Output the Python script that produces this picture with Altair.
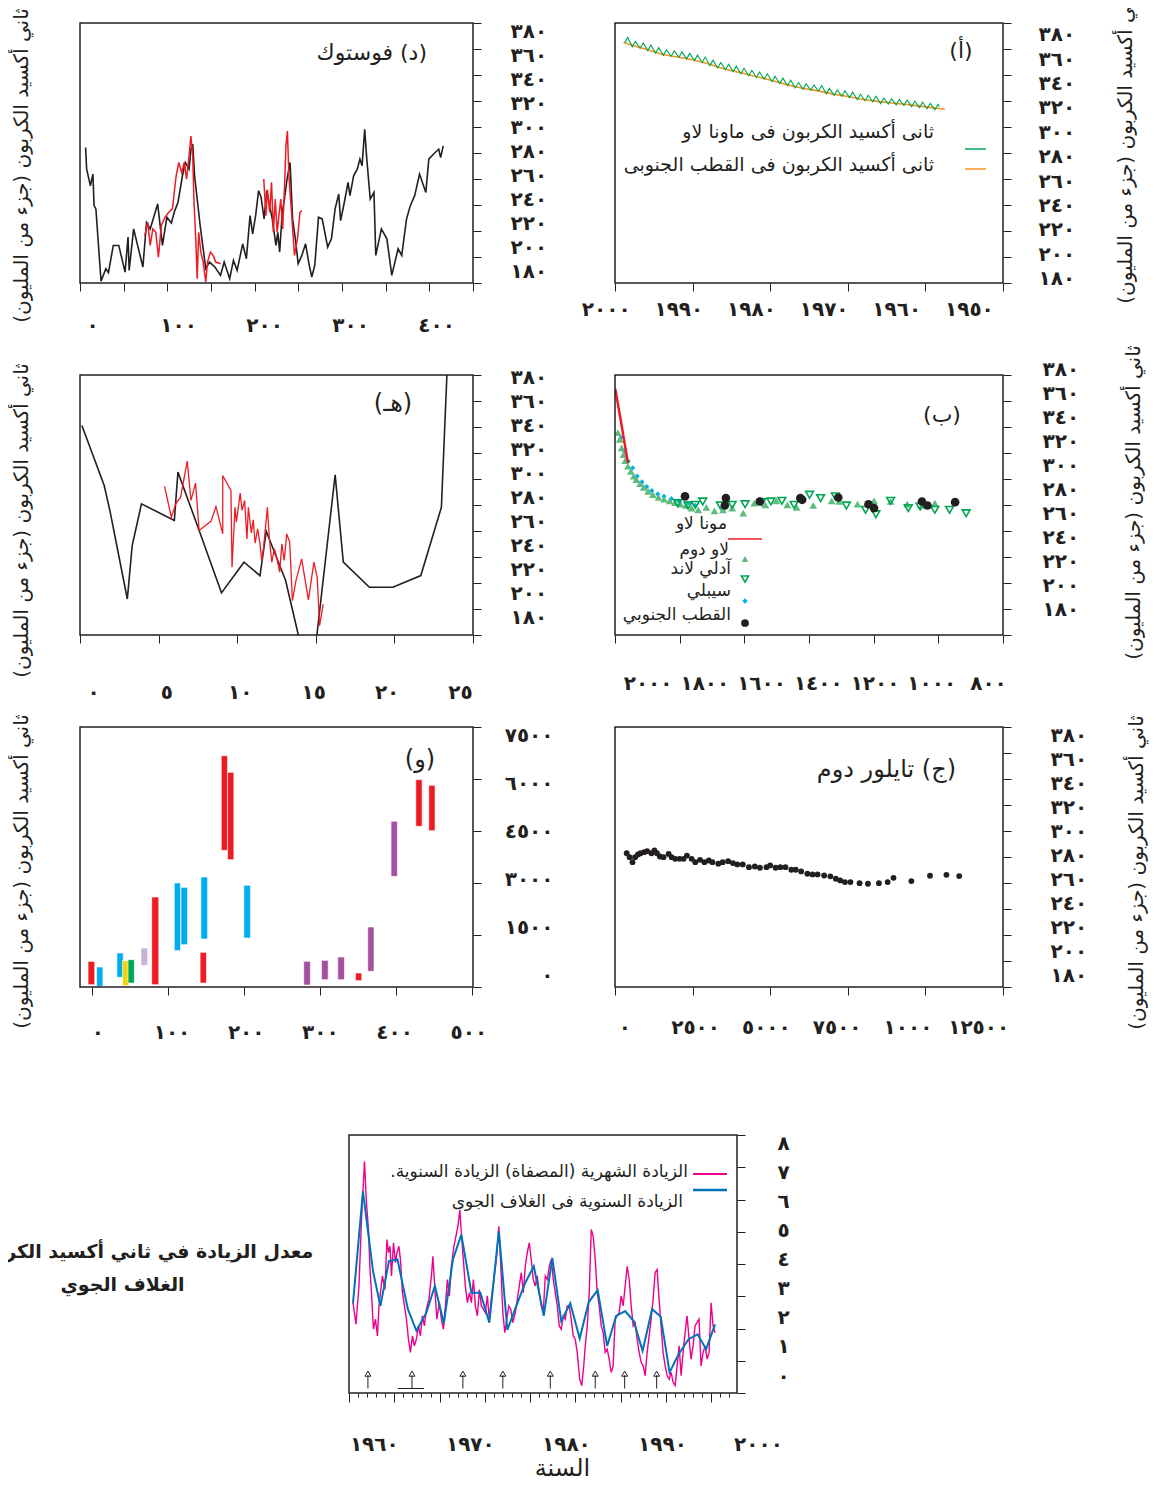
import altair as alt
import pandas as pd

FONT = "DejaVu Sans"
INK = "#231f20"
RED = "#ed1c24"
GREEN = "#00a651"
ORANGE = "#f7941d"
LAWDOME = "#5dbb7e"
CYAN = "#00aeef"
PINK = "#ec008c"
BLUE = "#0072bc"
RLM = "\u200f"
AR_DIGITS = "٠١٢٣٤٥٦٧٨٩"
Y_TITLE = "ثاني أكسيد الكربون (جزء من المليون)"

# ======================= DATA =======================
# (أ) Mauna Loa seasonal maxima / minima, South Pole
ml_years = list(range(1958, 1999))
ml_peaks = [317.5, 318.2, 319.1, 319.8, 320.7, 321.2, 321.8, 322.2, 323.6, 324.4,
            325.2, 326.8, 327.9, 328.5, 329.7, 331.9, 332.4, 333.3, 334.2, 336.0,
            337.6, 339.0, 340.9, 342.3, 343.6, 345.2, 346.8, 348.3, 349.6, 351.4,
            353.8, 355.3, 356.6, 357.8, 358.6, 359.3, 361.0, 363.0, 364.8, 365.9, 368.9]
ml_troughs = [313.3, 314.0, 314.9, 315.6, 316.5, 317.0, 317.6, 318.0, 319.4, 320.2,
              321.0, 322.6, 323.7, 324.3, 325.5, 327.7, 328.2, 329.1, 330.0, 331.8,
              333.4, 334.8, 336.7, 338.1, 339.4, 341.0, 342.6, 344.1, 345.4, 347.2,
              349.6, 351.1, 352.4, 353.6, 354.4, 355.1, 356.8, 358.8, 360.6, 361.7, 364.7]
ml_first = (1958.2, 315.7)
spo = [(1957.5, 313.7), (1960, 315.5), (1962, 317.0), (1964, 318.3), (1966, 319.5),
       (1968, 321.2), (1970, 323.5), (1972, 325.5), (1974, 328.0), (1976, 330.0),
       (1978, 332.8), (1980, 336.2), (1982, 339.0), (1984, 342.0), (1986, 344.8),
       (1988, 348.7), (1990, 351.8), (1992, 353.9), (1994, 356.0), (1996, 359.8),
       (1998, 363.3), (1998.9, 365.0)]

# (ب) last 1000 years
mlb_red = [(1998.9, 369.2), (1990.9, 357.5), (1981.8, 344.6), (1971.5, 329.2), (1960.1, 312.4)]
law_dome = [(1990.9, 335.6), (1985.2, 330.4), (1979.5, 324.0), (1973.8, 318.8), (1968.1, 314.2),
            (1960.1, 309.8), (1951.0, 305.9), (1941.9, 302.1), (1933.9, 299.5), (1922.5, 296.4),
            (1911.1, 293.5), (1897.4, 290.5), (1882.6, 287.9), (1865.5, 285.8), (1848.4, 284.5),
            (1831.3, 283.2), (1814.3, 281.9), (1797.2, 280.6), (1780.1, 279.6), (1763.0, 277.6),
            (1742.5, 276.3), (1717.4, 278.1), (1692.3, 275.5), (1666.1, 276.3), (1637.6, 277.6),
            (1603.4, 273.7), (1569.2, 281.4), (1535.0, 280.1), (1500.9, 283.2), (1466.7, 280.1),
            (1438.2, 278.1), (1386.9, 279.6), (1329.9, 283.2), (1307.1, 282.7), (1250.1, 280.6),
            (1198.9, 283.2), (1147.6, 282.7), (1096.3, 280.6), (1050.7, 279.6), (1010.8, 281.4)]
adelie = [(1806.3, 281.4), (1774.4, 279.6), (1751.6, 280.1), (1728.8, 282.7), (1674.1, 279.6),
          (1637.6, 280.1), (1597.7, 280.6), (1546.4, 282.2), (1517.9, 282.7), (1483.8, 283.2),
          (1446.2, 280.1), (1398.3, 287.9), (1364.1, 285.3), (1318.5, 286.6), (1284.3, 279.6),
          (1225.1, 276.3), (1193.2, 272.9), (1147.6, 283.2), (1092.9, 277.6), (1056.4, 278.8),
          (1010.8, 276.3), (965.3, 276.3), (914.0, 273.7)]
siple = [(1981.8, 331.7), (1970.4, 321.4), (1959.0, 313.7), (1945.3, 308.5), (1931.6, 302.1),
         (1916.8, 297.7), (1902.0, 294.1), (1886.0, 291.0), (1867.8, 288.4), (1848.4, 286.6),
         (1825.6, 284.8), (1802.8, 283.2), (1774.4, 281.4), (1751.6, 279.6)]
south_pole = [(1783.5, 286.6), (1657.0, 285.3), (1660.4, 279.6), (1552.1, 282.7), (1426.8, 285.3),
              (1421.1, 284.0), (1309.4, 285.8), (1216.0, 280.6), (1198.9, 277.6), (1050.7, 282.7),
              (1033.6, 279.6), (948.2, 282.2)]

# (ج) Taylor Dome (years BP, ppm)
taylor = [(376, 282.9), (470, 279.9), (564, 276.0), (647, 279.9), (741, 281.9), (823, 282.9),
          (941, 283.7), (1035, 284.5), (1176, 282.9), (1270, 285.0), (1352, 282.9), (1446, 280.4),
          (1564, 279.9), (1729, 282.4), (1823, 279.9), (1940, 278.6), (2081, 278.6), (2211, 278.6),
          (2317, 281.1), (2469, 278.6), (2587, 276.0), (2740, 277.8), (2881, 276.0), (3022, 277.3),
          (3140, 276.0), (3328, 274.8), (3469, 276.0), (3645, 276.8), (3798, 275.3), (3939, 274.3),
          (4116, 274.3), (4316, 272.2), (4504, 272.7), (4668, 271.7), (4880, 272.2), (4998, 273.5),
          (5174, 271.7), (5327, 272.2), (5492, 272.2), (5680, 270.2), (5821, 270.2), (5997, 268.9),
          (6197, 267.1), (6362, 266.6), (6526, 266.6), (6738, 265.8), (6938, 265.1), (7114, 263.3),
          (7255, 262.0), (7408, 260.7), (7585, 260.7), (7879, 259.9), (8149, 259.4), (8502, 259.9),
          (8784, 260.7), (8972, 264.0), (9548, 261.5), (10148, 265.6), (10677, 266.3), (11089, 265.3)]

# (د) Vostok (kyr BP, ppm)
vostok_black = [(6.4, 284.2), (7.6, 267.6), (10.6, 258.7), (11.9, 254.8), (14.8, 263.8), (16.1, 239.5),
                (18.2, 237.0), (24.1, 181.3), (29.6, 191.0), (32.6, 188.0), (38.1, 208.9), (44.4, 208.9),
                (51.6, 188.4), (55.0, 215.3), (56.3, 189.7), (61.4, 221.6), (72.0, 192.3), (76.2, 226.5),
                (80.4, 221.6), (88.9, 240.8), (94.4, 208.9), (99.5, 230.6), (104.6, 226.2), (107.9, 234.4),
                (112.2, 242.1), (117.3, 262.5), (120.6, 272.7), (124.9, 267.6), (127.0, 282.9), (129.1, 286.8),
                (131.2, 262.5), (137.6, 224.2), (144.0, 191.0), (148.2, 196.1), (154.5, 192.3), (160.9, 185.9),
                (165.1, 196.1), (171.4, 183.3), (175.7, 197.4), (179.9, 189.7), (186.3, 210.1), (190.5, 198.7),
                (194.7, 231.8), (197.7, 217.8), (201.1, 231.8), (204.5, 251.0), (207.4, 245.9), (210.8, 229.3),
                (213.8, 251.0), (220.1, 229.3), (224.4, 208.9), (226.5, 219.0), (228.6, 203.8), (231.6, 234.4),
                (234.1, 244.6), (237.1, 260.0), (240.5, 272.7), (243.4, 229.3), (246.8, 212.7), (249.8, 194.8),
                (254.0, 201.2), (258.3, 210.1), (262.5, 193.5), (265.4, 184.6), (268.8, 193.5), (273.1, 230.6),
                (277.3, 229.3), (283.6, 207.6), (287.9, 214.0), (292.1, 237.0), (296.3, 248.5), (298.4, 228.0),
                (302.7, 242.1), (306.9, 257.4), (309.1, 247.2), (313.3, 262.5), (317.5, 267.6), (320.5, 275.3),
                (323.0, 270.2), (326.0, 298.3), (328.1, 277.8), (332.3, 244.6), (336.6, 249.7), (338.7, 201.2),
                (345.1, 221.6), (351.4, 214.0), (357.0, 185.9), (364.2, 206.3), (368.4, 201.2), (373.9, 229.3),
                (378.2, 239.5), (383.2, 247.2), (388.8, 263.8), (396.0, 249.7), (399.4, 275.3), (406.6, 280.4),
                (410.8, 282.9), (412.9, 276.5), (415.9, 285.5)]
vostok_red_1 = [(74.1, 216.5), (77.5, 226.8), (80.4, 208.9), (83.4, 221.6), (86.8, 219.0), (89.8, 199.9),
                (93.1, 224.2), (97.4, 230.6), (101.6, 234.4), (105.8, 237.0), (110.1, 262.5), (113.1, 272.7),
                (116.4, 265.0), (119.4, 272.7), (122.0, 259.9), (124.9, 277.8), (127.0, 293.1), (129.1, 277.8),
                (130.4, 244.6), (132.5, 214.0), (134.2, 183.3), (135.9, 219.0), (138.4, 203.8), (141.0, 196.1),
                (144.0, 180.8), (146.0, 196.1), (149.4, 203.8), (152.4, 201.2), (155.4, 196.1), (160.9, 194.8)]
vostok_red_2 = [(210.4, 260.0), (212.9, 231.8), (214.6, 251.9), (217.2, 234.4), (219.3, 257.4), (221.4, 219.0),
                (223.6, 244.6), (225.7, 219.0), (227.8, 231.8), (229.9, 244.6), (232.1, 221.6), (234.1, 252.2),
                (235.8, 285.5), (237.5, 297.0), (239.2, 262.5), (242.2, 234.4), (245.6, 201.2), (249.0, 214.0),
                (251.9, 234.4), (254.0, 235.7)]

# (هـ) last 25 Myr
e_black = [(0.12, 341.2), (1.54, 295.0), (1.90, 275.8), (3.01, 207.7), (3.32, 248.8), (3.91, 280.9),
           (6.00, 268.1), (6.23, 305.3), (7.58, 260.4), (9.00, 212.4), (10.43, 236.0), (11.45, 225.7),
           (11.85, 259.8), (13.08, 221.9), (13.89, 180.0), (14.45, 170.0), (15.07, 180.0), (16.23, 303.2),
           (16.75, 236.0), (18.41, 216.7), (19.90, 216.7), (21.68, 225.7), (22.99, 278.3), (23.34, 380.0),
           (23.50, 420.0)]
e_red = [(5.38, 294.3), (5.81, 270.6), (6.09, 280.9), (6.40, 286.0), (6.82, 313.8), (7.06, 283.5),
         (7.35, 296.8), (7.58, 260.4), (8.34, 267.6), (8.65, 278.8), (9.08, 257.8), (9.08, 302.7),
         (9.60, 291.2), (9.67, 232.1), (9.86, 278.3), (9.95, 266.8), (10.19, 289.1), (10.31, 275.8),
         (10.47, 283.5), (10.62, 253.9), (10.71, 278.3), (10.90, 258.6), (11.02, 268.6), (11.14, 250.6),
         (11.30, 261.7), (11.45, 250.1), (11.56, 237.3), (11.68, 247.5), (11.92, 278.3), (12.04, 255.2),
         (12.20, 236.0), (12.37, 246.2), (12.51, 239.8), (12.70, 228.3), (12.84, 250.1), (12.99, 237.3),
         (13.15, 257.8), (13.34, 251.4), (13.51, 206.4), (13.74, 222.0), (14.10, 238.5), (14.53, 207.0),
         (14.88, 236.0), (15.09, 224.4), (15.24, 187.2), (15.47, 203.8)]

# (و) last 500 Myr: age range (Myr) and CO2 range (ppm) per estimate, method category
f_age_from = [-5.4, 5.8, 32.6, 39.9, 47.2, 64.2, 78.3, 108.0, 116.8, 143.0, 142.0,
              169.8, 178.1, 199.5, 278.3, 301.7, 323.1, 346.5, 362.5, 393.2, 425.8, 442.8]
f_age_to = [3.4, 14.1, 40.9, 48.2, 55.5, 73.0, 87.6, 116.3, 125.5, 151.8, 150.4,
            178.1, 186.4, 208.3, 287.1, 310.5, 331.9, 354.7, 370.8, 401.5, 434.1, 451.1]
f_co2_lo = [67, 19, 279, 38, 115, 625, 67, 1048, 1221, 1385, 115,
            3942, 3673, 1413, 58, 212, 212, 183, 452, 3192, 4635, 4510]
f_co2_hi = [740, 577, 981, 760, 788, 1125, 2596, 3000, 2875, 3173, 1000,
            6673, 6192, 2933, 740, 769, 865, 404, 1731, 4779, 5981, 5817]
f_method = ["a", "b", "b", "c", "d", "e", "a", "b", "b", "b", "a",
            "a", "a", "b", "f", "f", "f", "a", "f", "f", "a", "a"]
f_methods = ["a", "b", "c", "d", "e", "f"]
f_colors = [RED, CYAN, "#f2d40c", GREEN, "#c9b0d6", "#a4509f"]

# bottom: growth rate
growth_monthly = [
    (1955.44, 2.80), (1955.77, 2.13), (1956.10, 3.32), (1956.38, 5.38), (1956.71, 7.18), (1956.93, 5.89),
    (1957.15, 5.07), (1957.32, 3.83), (1957.48, 3.11), (1957.70, 1.98), (1957.92, 2.29), (1958.14, 1.77),
    (1958.31, 2.70), (1958.47, 3.11), (1958.69, 3.63), (1958.97, 3.21), (1959.19, 4.76), (1959.36, 4.35),
    (1959.52, 4.55), (1959.69, 3.63), (1959.91, 4.66), (1960.13, 4.04), (1960.29, 4.35), (1960.51, 4.55),
    (1960.68, 4.14), (1960.90, 3.11), (1961.12, 2.70), (1961.34, 2.29), (1961.56, 1.67), (1961.78, 1.26),
    (1962.00, 1.77), (1962.22, 1.46), (1962.44, 1.67), (1962.66, 2.08), (1962.88, 1.77), (1963.10, 2.39),
    (1963.32, 2.08), (1963.54, 2.60), (1963.82, 2.90), (1964.10, 3.63), (1964.26, 4.24), (1964.48, 3.21),
    (1964.70, 2.29), (1964.98, 2.80), (1965.20, 2.29), (1965.42, 1.98), (1965.64, 2.70), (1965.86, 3.52),
    (1966.08, 3.01), (1966.30, 3.93), (1966.58, 4.55), (1966.80, 4.86), (1967.02, 5.17), (1967.24, 5.68),
    (1967.40, 4.96), (1967.62, 4.14), (1967.84, 3.32), (1968.07, 2.80), (1968.29, 3.11), (1968.51, 2.80),
    (1968.73, 3.52), (1968.95, 2.70), (1969.17, 2.39), (1969.39, 3.21), (1969.61, 2.70), (1969.83, 2.60),
    (1970.05, 2.49), (1970.27, 3.01), (1970.49, 2.29), (1970.71, 2.90), (1970.99, 3.52), (1971.26, 4.14),
    (1971.54, 5.17), (1971.76, 3.93), (1971.98, 2.49), (1972.20, 1.87), (1972.42, 2.29), (1972.64, 2.70),
    (1972.86, 2.60), (1973.08, 2.18), (1973.36, 2.49), (1973.58, 2.90), (1973.80, 3.32), (1974.02, 3.73),
    (1974.24, 3.11), (1974.46, 3.93), (1974.68, 4.35), (1974.90, 4.66), (1975.12, 4.14), (1975.34, 3.52),
    (1975.56, 3.32), (1975.78, 3.63), (1976.00, 3.11), (1976.22, 2.70), (1976.44, 2.49), (1976.67, 3.63),
    (1976.89, 3.52), (1977.11, 3.93), (1977.33, 4.14), (1977.55, 3.52), (1977.77, 3.11), (1977.99, 2.70),
    (1978.21, 2.08), (1978.43, 1.98), (1978.65, 2.39), (1978.87, 2.29), (1979.09, 2.70), (1979.31, 2.70),
    (1979.53, 2.29), (1979.75, 1.77), (1979.97, 1.67), (1980.19, 1.26), (1980.47, 0.43), (1980.69, 0.23),
    (1980.91, 0.84), (1981.08, 1.46), (1981.30, 2.08), (1981.52, 3.11), (1981.74, 5.07), (1981.96, 4.86),
    (1982.18, 4.14), (1982.40, 3.11), (1982.62, 2.70), (1982.84, 2.08), (1983.06, 1.87), (1983.28, 1.26),
    (1983.50, 1.36), (1983.72, 1.05), (1983.94, 0.64), (1984.16, 0.84), (1984.38, 2.29), (1984.60, 2.39),
    (1984.82, 2.49), (1985.04, 3.01), (1985.26, 2.70), (1985.49, 3.32), (1985.71, 3.93), (1985.93, 3.52),
    (1986.15, 2.70), (1986.37, 2.08), (1986.59, 2.18), (1986.81, 1.67), (1987.03, 1.26), (1987.25, 0.95),
    (1987.47, 0.84), (1987.69, 0.54), (1987.91, 1.26), (1988.13, 1.77), (1988.35, 2.29), (1988.57, 2.90),
    (1988.79, 3.73), (1989.01, 3.83), (1989.23, 2.90), (1989.45, 2.08), (1989.67, 1.26), (1989.90, 0.84),
    (1990.12, 0.54), (1990.34, 0.43), (1990.56, 0.64), (1990.78, 0.33), (1991.00, 0.23), (1991.22, 0.84),
    (1991.44, 1.46), (1991.66, 0.54), (1991.88, 1.26), (1992.10, 1.87), (1992.32, 2.39), (1992.54, 1.67),
    (1992.76, 1.05), (1992.98, 1.46), (1993.20, 2.08), (1993.42, 2.18), (1993.64, 2.29), (1993.86, 0.84),
    (1994.09, 1.26), (1994.31, 1.46), (1994.53, 1.05), (1994.75, 1.26), (1994.97, 2.80), (1995.19, 2.08),
    (1995.41, 1.87)]
growth_annual = [
    (1955.44, 2.78), (1956.54, 6.25), (1957.65, 3.78), (1958.47, 2.70), (1959.41, 4.09), (1960.35, 4.14),
    (1961.50, 2.60), (1962.44, 1.93), (1963.54, 2.49), (1964.48, 3.32), (1965.47, 2.16), (1966.47, 4.14),
    (1967.40, 4.91), (1968.51, 3.11), (1969.50, 3.11), (1970.49, 2.18), (1971.54, 5.02), (1972.48, 1.96),
    (1973.47, 2.70), (1974.46, 3.42), (1975.40, 3.93), (1976.50, 2.39), (1977.44, 4.19), (1978.43, 2.23),
    (1979.42, 2.78), (1980.47, 1.69), (1981.46, 2.82), (1982.45, 3.19), (1983.50, 1.46), (1984.49, 2.39),
    (1985.48, 2.54), (1986.42, 2.23), (1987.41, 1.31), (1988.46, 2.60), (1989.40, 2.37), (1990.39, 0.64),
    (1991.38, 1.20), (1992.49, 1.67), (1993.48, 1.82), (1994.42, 1.36), (1995.41, 2.13)]
event_arrows = [1957.09, 1961.95, 1967.57, 1971.98, 1977.22, 1982.18, 1985.43, 1988.96]
event_bar = [1960.4, 1963.27]

# ======================= HELPERS =======================
ONE = pd.DataFrame({"k": [0]})


def rtl(s):
    return RLM + s + RLM


def pairs_df(pairs):
    df = pd.DataFrame(pairs, columns=["x", "y"])
    df["i"] = range(len(df))
    return df


def label_expr(special=None):
    e = "datum.label"
    for i, d in enumerate(AR_DIGITS):
        e = f"replace({e}, regexp('{i}', 'g'), '{d}')"
    if special:
        for v, s in special.items():
            e = f"datum.value == {v} ? '{s}' : ({e})"
    return e


def sc(dom, rng=None):
    if rng is not None:
        return alt.Scale(domain=dom, range=rng, nice=False, zero=False)
    return alt.Scale(domain=dom, nice=False, zero=False)


def ticks_axis(orient, values, size=8):
    return alt.Axis(orient=orient, values=values, labels=False, domain=False, grid=False,
                    ticks=True, tickSize=size, tickColor=INK, tickWidth=1, title=None)


def label_axis(orient, values, pad, special=None, **kw):
    if "title" not in kw:
        kw["title"] = None
    return alt.Axis(orient=orient, values=values, format="d", labelExpr=label_expr(special),
                    ticks=False, tickSize=0, domain=False, grid=False, labelPadding=pad,
                    labelFont=FONT, labelFontSize=20, labelFontWeight="bold", labelColor=INK,
                    labelOverlap=False, labelFlush=False, **kw)


def y_title_kw(tx, ty, **extra):
    d = dict(title=rtl(Y_TITLE), titleAngle=270, titleX=tx, titleY=ty, titleFont=FONT,
             titleFontSize=20, titleFontWeight="normal", titleColor=INK,
             titleAlign="center", titleBaseline="middle")
    d.update(extra)
    return d


def line_layer(df, color, width=1.5, clip=True):
    def make(XS, YS):
        return alt.Chart(df).mark_line(color=color, strokeWidth=width, clip=clip).encode(
            x=alt.X("x:Q", scale=XS, axis=None), y=alt.Y("y:Q", scale=YS, axis=None), order="i:Q")
    return make


def point_layer(df, **kw):
    def make(XS, YS):
        return alt.Chart(df).mark_point(clip=True, **kw).encode(
            x=alt.X("x:Q", scale=XS, axis=None), y=alt.Y("y:Q", scale=YS, axis=None))
    return make


def text_layer(s, x, y, size=17, align="right", weight="normal"):
    def make(XS, YS):
        return alt.Chart(ONE).mark_text(text=rtl(s), font=FONT, fontSize=size, align=align,
                                        baseline="middle", fontWeight=weight, color=INK).encode(
            x=alt.value(x), y=alt.value(y))
    return make


def hrule_layer(x1, x2, y, color, width=1.5):
    def make(XS, YS):
        return alt.Chart(ONE).mark_rule(color=color, strokeWidth=width).encode(
            x=alt.value(x1), x2=alt.value(x2), y=alt.value(y))
    return make


def symbol_layer(x, y, **kw):
    def make(XS, YS):
        return alt.Chart(ONE).mark_point(**kw).encode(x=alt.value(x), y=alt.value(y))
    return make


def panel(W, H, xdom, ydom, xt, yt, xlab, ylab, xl, yl, xpad, ypad, marks, ytitle,
          xtitle=None, xrange=None, yrange=None, xtick_size=8, special=None):
    """xlab / ylab: ((value_a, value_b), (pixel_a, pixel_b)) placing the tick labels."""
    XS = sc(xdom, xrange)
    YS = sc(ydom, yrange)
    frame_df = pd.DataFrame({"x0": [xdom[0]], "x1": [xdom[1]], "y0": [ydom[0]], "y1": [ydom[1]]})
    frame = alt.Chart(frame_df).mark_rect(fillOpacity=0, stroke=INK, strokeWidth=1.5).encode(
        x=alt.X("x0:Q", scale=XS, axis=ticks_axis("bottom", xt, xtick_size)),
        x2="x1:Q",
        y=alt.Y("y0:Q", scale=YS, axis=ticks_axis("right", yt)),
        y2="y1:Q")
    layers = [m(XS, YS) for m in marks]
    lab_df = pd.DataFrame({"lx": [xlab[0][0]], "ly": [ylab[0][0]]})
    xkw = xtitle if xtitle else {}
    lab = alt.Chart(lab_df).mark_point(opacity=0).encode(
        x=alt.X("lx:Q", scale=sc(list(xlab[0]), list(xlab[1])),
                axis=label_axis("bottom", xl, xpad, special, **xkw)),
        y=alt.Y("ly:Q", scale=sc(list(ylab[0]), list(ylab[1])),
                axis=label_axis("right", yl, ypad, **ytitle)))
    return alt.layer(*layers, frame, lab).resolve_scale(
        x="independent", y="independent").properties(width=W, height=H)


PPM_T = list(range(180, 381, 20))

# ======================= PANELS =======================
# (د) Vostok
red_v = pd.concat([pairs_df(vostok_red_1).assign(seg=1), pairs_df(vostok_red_2).assign(seg=2)])
p_d = panel(
    393, 260, [0, 450], [180, 380], list(range(0, 451, 50)), PPM_T,
    ((0, 400), (12.2, 356.1)), ((380, 180), (8.3, 248.0)),
    [0, 100, 200, 300, 400], PPM_T, 32, 37,
    [line_layer(pairs_df(vostok_black), INK, 1.6),
     lambda XS, YS: alt.Chart(red_v).mark_line(color=RED, strokeWidth=1.5, clip=True).encode(
         x=alt.X("x:Q", scale=XS, axis=None), y=alt.Y("y:Q", scale=YS, axis=None),
         order="i:Q", detail="seg:N"),
     text_layer("(د)  فوستوك", 347, 30, size=22)],
    y_title_kw(-452, 142))

# (أ) Mauna Loa / South Pole
ml_rows = [ml_first]
for yr, pk, tr in zip(ml_years, ml_peaks, ml_troughs):
    ml_rows.append((yr + 0.37, pk))
    ml_rows.append((yr + 0.77, tr))
p_a = panel(
    388, 260, [2000, 1950], [180, 380], list(range(2000, 1949, -10)), PPM_T,
    ((2000, 1950), (-9.3, 353.9)), ((380, 180), (11.7, 255.6)),
    list(range(2000, 1949, -10)), PPM_T, 16, 35,
    [line_layer(pairs_df(spo), ORANGE, 1.6),
     line_layer(pairs_df(ml_rows), GREEN, 1.1),
     text_layer("(أ)", 346, 28, size=22, align="center"),
     text_layer("ثانى أكسيد الكربون فى ماونا لاو", 319, 109, size=19),
     text_layer("ثانى أكسيد الكربون فى القطب الجنوبى", 319, 142, size=19),
     hrule_layer(350, 371, 126, GREEN),
     hrule_layer(350, 371, 146, ORANGE)],
    y_title_kw(122, 123))

# (هـ)
p_e = panel(
    393, 260, [0, 25], [180, 380], list(range(0, 26, 5)), PPM_T,
    ((0, 25), (13.0, 380.0)), ((380, 180), (2.1, 242.3)),
    list(range(0, 26, 5)), PPM_T, 47, 37,
    [line_layer(pairs_df(e_black), INK, 1.6),
     line_layer(pairs_df(e_red), RED, 1.3),
     text_layer("(هـ)", 313, 29, size=24, align="center")],
    y_title_kw(-452, 145))

# (ب)
p_b = panel(
    388, 260, [2000, 800], [180, 380], list(range(2000, 799, -200)), PPM_T,
    ((2000, 800), (32.6, 373.0)), ((380, 180), (-6.0, 234.0)),
    list(range(2000, 799, -200)), PPM_T, 38, 39,
    [point_layer(pairs_df(siple), shape="diamond", filled=True, size=28, color=CYAN, opacity=1),
     point_layer(pairs_df(law_dome), shape="triangle-up", filled=True, size=60, color=LAWDOME, opacity=1),
     point_layer(pairs_df(adelie), shape="triangle-down", filled=False, size=60, color=GREEN,
                 strokeWidth=1.6, opacity=1),
     point_layer(pairs_df(south_pole), shape="circle", filled=True, size=75, color=INK, opacity=1),
     line_layer(pairs_df(mlb_red), RED, 2.5),
     text_layer("(ب)", 327, 40, size=22, align="center"),
     text_layer("مونا لاو", 112, 149),
     hrule_layer(113, 147, 164, RED),
     text_layer("لاو دوم", 114, 175),
     symbol_layer(130, 184, shape="triangle-up", filled=True, size=45, color=LAWDOME, opacity=1),
     text_layer("آدلي لاند", 116, 194),
     symbol_layer(130, 204, shape="triangle-down", filled=False, size=50, color=GREEN,
                  strokeWidth=1.6, opacity=1),
     text_layer("سيبلي", 116, 216),
     symbol_layer(130, 226, shape="diamond", filled=True, size=28, color=CYAN, opacity=1),
     text_layer("القطب الجنوبي", 116, 240),
     symbol_layer(130, 248, shape="circle", filled=True, size=60, color=INK, opacity=1)],
    y_title_kw(130, 127))

# (و)
bars = pd.DataFrame({"x0": f_age_from, "x1": f_age_to, "lo": f_co2_lo, "hi": f_co2_hi, "m": f_method})
p_f = panel(
    393, 260, [-16, 501], [0, 7500], list(range(0, 501, 100)), list(range(0, 7501, 1500)),
    ((0, 500), (17.3, 388.3)), ((7500, 0), (8.3, 248.6)),
    list(range(0, 501, 100)), list(range(0, 7501, 1500)), 35, 80,
    [lambda XS, YS: alt.Chart(bars).mark_rect(clip=True, stroke="white", strokeWidth=0.6).encode(
        x=alt.X("x0:Q", scale=XS, axis=None), x2="x1:Q",
        y=alt.Y("lo:Q", scale=YS, axis=None), y2="hi:Q",
        color=alt.Color("m:N", scale=alt.Scale(domain=f_methods, range=f_colors), legend=None)),
     text_layer("(و)", 340, 33, size=24, align="center")],
    y_title_kw(-452, 144, labelAlign="right"))

# (ج) Taylor Dome
p_c = panel(
    388, 260, [0, 12500], [180, 380], list(range(0, 12501, 2500)), PPM_T,
    ((0, 12500), (9.3, 363.2)), ((380, 180), (8.1, 248.0)),
    list(range(0, 12501, 2500)), PPM_T, 30, 47,
    [point_layer(pairs_df(taylor), shape="circle", filled=True, size=34, color=INK, opacity=1),
     text_layer("(ج)  تايلور دوم", 341, 43, size=24)],
    y_title_kw(133, 145),
    special={10000: "١٠٠٠"})

# bottom: growth rate (placed in column 2; its frame reaches left of the column start)
arrows = pd.DataFrame({"x": event_arrows})
arrows["y0"] = 0.14
arrows["y1"] = 0.55
arrows["yh"] = 0.6
bar_df = pd.DataFrame({"x0": [event_bar[0]], "x1": [event_bar[1]]})
bar_df["y"] = 0.14
bottom_title = dict(
    title=[rtl("معدل الزيادة في ثاني أكسيد الكربون في"), rtl("الغلاف الجوي")],
    titleAngle=0, titleX=-615, titleY=172, titleFont=FONT, titleFontSize=19,
    titleFontWeight="bold", titleColor=INK, titleAlign="center", titleBaseline="middle",
    titleLineHeight=33)
x_title = dict(title=rtl("السنة"), titleX=-53, titleY=75, titleFont=FONT, titleFontSize=24,
               titleFontWeight="normal", titleColor=INK, titleAlign="center", titleBaseline="middle")
XR = [-266, 122]
p_g = panel(
    122, 314, [1955, 1997.83], [0, 8], list(range(1955, 1998)), list(range(0, 9)),
    ((1960, 2000), (XR[0] + 24.8, XR[0] + 409.0)), ((8, 0), (56 + 8.3, 56 + 241.0)),
    list(range(1960, 2001, 10)), list(range(0, 9)), 41, 40,
    [line_layer(pairs_df(growth_monthly), PINK, 1.4, clip=False),
     line_layer(pairs_df(growth_annual), BLUE, 2.0, clip=False),
     lambda XS, YS: alt.Chart(arrows).mark_rule(color=INK, strokeWidth=1).encode(
         x=alt.X("x:Q", scale=XS, axis=None), y=alt.Y("y0:Q", scale=YS, axis=None), y2="y1:Q"),
     lambda XS, YS: alt.Chart(arrows).mark_point(shape="triangle-up", filled=False, size=35,
                                                 color=INK, strokeWidth=1, opacity=1).encode(
         x=alt.X("x:Q", scale=XS, axis=None), y=alt.Y("yh:Q", scale=YS, axis=None)),
     lambda XS, YS: alt.Chart(bar_df).mark_rule(color=INK, strokeWidth=1).encode(
         x=alt.X("x0:Q", scale=XS, axis=None), x2="x1:Q", y=alt.Y("y:Q", scale=YS, axis=None)),
     text_layer("الزيادة الشهرية (المصفاة)  الزيادة السنوية.", 73, 93),
     hrule_layer(78, 112, 95, PINK, 2),
     hrule_layer(78, 112, 111, BLUE, 2.5),
     text_layer("الزيادة السنوية فى الغلاف الجوى", 68, 123)],
    bottom_title, xtitle=x_title, xrange=XR, yrange=[314, 56],
    xtick_size={"condition": {"test": "datum.value % 5 === 0", "value": 9}, "value": 4})

spacer = alt.Chart(ONE).mark_point(opacity=0).encode(
    x=alt.value(0), y=alt.value(0)).properties(width=1, height=1)

chart = alt.concat(p_d, p_a, p_e, p_b, p_f, p_c, spacer, p_g, columns=2,
                   spacing={"row": 92, "column": 142}, align="each", bounds="flush").properties(
    autosize=alt.AutoSizeParams(type="none"),
    padding={"left": 72, "top": 15, "right": 1069, "bottom": 1459},
    background="white").configure(font=FONT).configure_view(stroke=None)

chart.save("out.html", embed_options={"renderer": "svg", "actions": False})
